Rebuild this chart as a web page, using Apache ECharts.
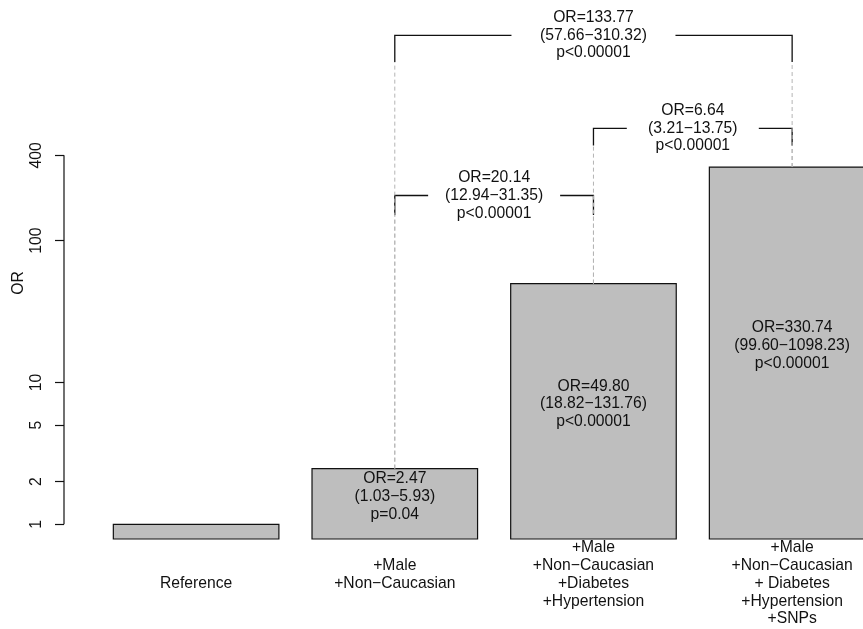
<!DOCTYPE html>
<html>
<head>
<meta charset="utf-8">
<script src="https://cdn.jsdelivr.net/npm/echarts@6/dist/echarts.min.js"></script>
<style>
  html, body { margin: 0; padding: 0; background: #ffffff; }
  #chart { width: 863px; height: 629px; }
</style>
</head>
<body>
<div id="chart"></div>
<script>
// ---- data ----
const categories = [
  '\n\nReference',
  '\n+Male\n+Non\u2212Caucasian',
  '+Male\n+Non\u2212Caucasian\n+Diabetes\n+Hypertension',
  '+Male\n+Non\u2212Caucasian\n+ Diabetes\n+Hypertension\n+SNPs'
];
const orValues = [1, 2.47, 49.80, 330.74];
const ciLow    = [null, 1.03, 18.82, 99.60];
const ciHigh   = [null, 5.93, 131.76, 1098.23];
const pLabels  = [null, 'p=0.04', 'p<0.00001', 'p<0.00001'];

// pairwise comparisons between groups (indices into categories)
const compFrom = [1, 2, 1];
const compTo   = [2, 3, 3];
const compOR   = [20.14, 6.64, 133.77];
const compLow  = [12.94, 3.21, 57.66];
const compHigh = [31.35, 13.75, 310.32];
const compP    = ['p<0.00001', 'p<0.00001', 'p<0.00001'];

const yTicks      = [1, 2, 5, 10, 100, 400];
const yTickLabels = ['1', '2', '5', '10', '100', '400'];

// ---- layout ----
const BAR_WIDTH = 1, BAR_SPACE = 0.2;          // barplot units
const barCenter = i => BAR_SPACE + BAR_WIDTH / 2 + i * (BAR_WIDTH + BAR_SPACE);
const X_MIN = -0.098, X_MAX = 4.728;
const Y_MIN = 0.788, Y_MAX = 3214;
const bracketLevel = [208.4, 620.4, 2809];     // height of each bracket's crossbar
const bracketDrop  = [151.8, 469, 1820];       // lower end of its end ticks
const bracketGap   = [132, 132, 164];          // open space (px) left for the label

const FONT = '"Liberation Sans", Arial, Helvetica, sans-serif';
const FS = 15.7, LH = 17.8;

const fmt = v => v.toFixed(2);
const orText = (o, lo, hi, p) => 'OR=' + fmt(o) + '\n(' + fmt(lo) + '\u2212' + fmt(hi) + ')\n' + p;

function textEl(x, y, text) {
  return {
    type: 'text', x: x, y: y,
    style: {
      text: text, fill: '#111', font: FS + 'px ' + FONT, lineHeight: LH,
      align: 'center', verticalAlign: 'middle',
      textAlign: 'center', textVerticalAlign: 'middle'
    }
  };
}

const chart = echarts.init(document.getElementById('chart'), null, { renderer: 'canvas' });

chart.setOption({
  animation: false,
  backgroundColor: '#ffffff',
  grid: { left: 64, right: 0, top: 27, bottom: 90, containLabel: false, outerBoundsMode: 'none' },
  xAxis: {
    type: 'value', min: X_MIN, max: X_MAX,
    axisLine: { show: false, onZero: false }, axisTick: { show: false }, splitLine: { show: false },
    axisLabel: {
      customValues: categories.map((c, i) => barCenter(i)),
      formatter: v => categories[Math.round((v - barCenter(0)) / (BAR_WIDTH + BAR_SPACE))],
      margin: 0, fontSize: FS, lineHeight: LH, fontFamily: FONT, color: '#111',
      verticalAlign: 'top', align: 'center'
    }
  },
  yAxis: {
    type: 'log', logBase: 10, min: Y_MIN, max: Y_MAX,
    name: 'OR', nameLocation: 'middle', nameRotate: 90, nameGap: 37, nameMoveOverlap: false,
    nameTextStyle: { fontSize: FS, fontFamily: FONT, color: '#111' },
    axisLine: { show: false, onZero: false },
    splitLine: { show: false },
    axisTick: {
      customValues: yTicks, inside: false, length: 9,
      lineStyle: { color: '#111', width: 1.2 }
    },
    axisLabel: {
      customValues: yTicks, rotate: 90, margin: 19,
      fontSize: FS, fontFamily: FONT, color: '#111',
      formatter: v => {
        let best = 0;
        yTicks.forEach((t, i) => {
          if (Math.abs(Math.log(t) - Math.log(v)) < Math.abs(Math.log(yTicks[best]) - Math.log(v))) best = i;
        });
        return yTickLabels[best];
      }
    }
  },
  series: [
    {
      // axis line spanning the labelled range only
      type: 'custom', name: 'axis',
      data: [[X_MIN, yTicks[0]]],
      renderItem: (params, api) => {
        const a = api.coord([X_MIN, yTicks[0]]);
        const b = api.coord([X_MIN, yTicks[yTicks.length - 1]]);
        return {
          type: 'line', shape: { x1: a[0], y1: a[1], x2: b[0], y2: b[1] },
          style: { stroke: '#111', lineWidth: 1.2 }
        };
      }
    },
    {
      type: 'custom', name: 'bars',
      dimensions: ['x', 'or', 'idx'],
      encode: { x: 0, y: 1 },
      data: orValues.map((v, i) => [barCenter(i), v, i]),
      renderItem: (params, api) => {
        const x = api.value(0), v = api.value(1), i = api.value(2);
        const p0 = api.coord([x - BAR_WIDTH / 2, Y_MIN]);
        const p1 = api.coord([x + BAR_WIDTH / 2, v]);
        const children = [{
          type: 'rect',
          shape: { x: p0[0], y: p1[1], width: p1[0] - p0[0], height: p0[1] - p1[1] },
          style: { fill: '#bebebe', stroke: '#111', lineWidth: 1.2 }
        }];
        if (ciLow[i] != null) {
          const c = api.coord([x, Math.sqrt(v)]);
          children.push(textEl(c[0], c[1], orText(v, ciLow[i], ciHigh[i], pLabels[i])));
        }
        return { type: 'group', children: children };
      }
    },
    {
      type: 'custom', name: 'comparisons',
      dimensions: ['x', 'level', 'k'],
      encode: { x: 0, y: 1 },
      data: compFrom.map((f, k) => [(barCenter(f) + barCenter(compTo[k])) / 2, bracketLevel[k], k]),
      renderItem: (params, api) => {
        const k = api.value(2);
        const xa = barCenter(compFrom[k]), xb = barCenter(compTo[k]);
        const pa = api.coord([xa, bracketLevel[k]]);
        const pb = api.coord([xb, bracketLevel[k]]);
        const da = api.coord([xa, bracketDrop[k]]);
        const db = api.coord([xb, bracketDrop[k]]);
        const ta = api.coord([xa, orValues[compFrom[k]]]);
        const tb = api.coord([xb, orValues[compTo[k]]]);
        const mid = (pa[0] + pb[0]) / 2, half = bracketGap[k] / 2;
        const dash = { stroke: '#b4b4b4', lineWidth: 1, lineDash: [4, 3] };
        const solid = { stroke: '#111', lineWidth: 1.3, fill: null };
        return {
          type: 'group',
          children: [
            { type: 'line', shape: { x1: ta[0], y1: ta[1], x2: da[0], y2: da[1] }, style: dash },
            { type: 'line', shape: { x1: tb[0], y1: tb[1], x2: db[0], y2: db[1] }, style: dash },
            { type: 'polyline', shape: { points: [da, pa, [mid - half, pa[1]]] }, style: solid },
            { type: 'polyline', shape: { points: [[mid + half, pb[1]], pb, db] }, style: solid },
            textEl(mid, pa[1], orText(compOR[k], compLow[k], compHigh[k], compP[k]))
          ]
        };
      }
    }
  ]
});
</script>
</body>
</html>
